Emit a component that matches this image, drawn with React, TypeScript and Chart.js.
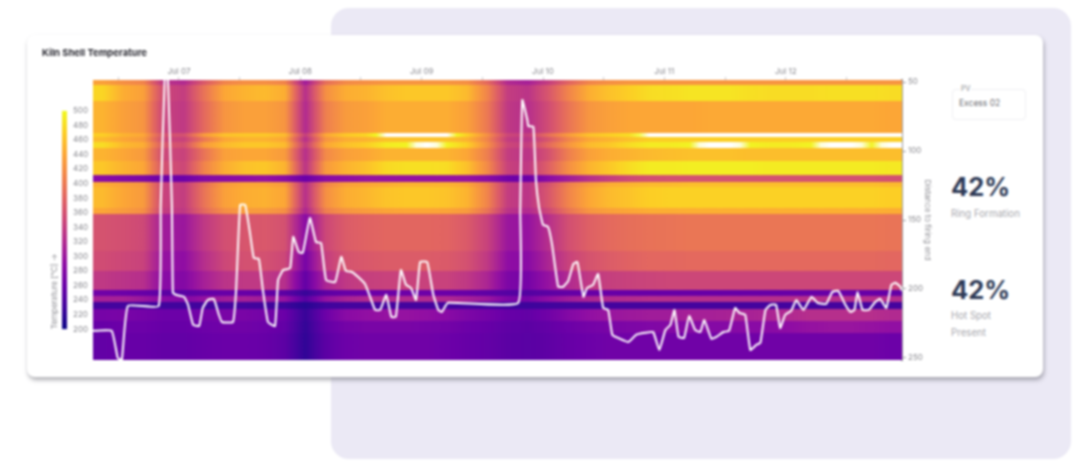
import React, { useEffect, useRef } from "react";
import { Chart, registerables } from "chart.js";

Chart.register(...registerables);

// --- Time columns of the heat map, hours from Jul 07 00:00 (centre of each 4 h column)
const columnHours = [-15, -11, -7, -3, 1, 5, 9, 13, 17, 21, 25, 29, 33, 37, 41, 45, 49, 53, 57, 61, 65, 69, 73, 77, 81, 85, 89, 93, 97, 101, 105, 109, 113, 117, 121, 125, 129, 133, 137, 141];

// --- Distance band edges (m from firing end)
const bandEdges = [48.5, 51.4, 63, 86.2, 89.1, 92.7, 97.1, 106.5, 116.7, 121.7, 125.3, 140.5, 144.9, 171.7, 186.2, 200, 204.3, 208.7, 213.8, 222.5, 231.2, 251.5];

// --- Shell temperature per band and column (deg C)
const band00 = [435, 420, 410, 330, 320, 370, 410, 420, 420, 410, 305, 390, 415, 420, 425, 425, 425, 425, 420, 385, 320, 310, 340, 380, 410, 420, 425, 425, 425, 425, 425, 425, 425, 425, 425, 425, 425, 425, 425, 425];
const band01 = [475, 445, 435, 350, 340, 395, 440, 450, 455, 445, 325, 420, 445, 450, 460, 465, 465, 465, 455, 410, 340, 330, 365, 410, 445, 460, 470, 480, 482, 485, 485, 485, 482, 480, 480, 480, 482, 482, 482, 480];
const band02 = [450, 435, 425, 345, 335, 385, 425, 435, 435, 425, 320, 405, 430, 435, 445, 445, 445, 445, 435, 400, 335, 325, 355, 395, 425, 435, 440, 440, 440, 440, 442, 442, 442, 442, 442, 442, 442, 442, 442, 440];
const band03 = [470, 450, 440, 360, 360, 430, 460, 465, 465, 455, 340, 440, 465, 475, 520, 525, 525, 520, 470, 420, 350, 340, 390, 430, 460, 470, 480, 525, 525, 525, 525, 525, 525, 525, 525, 525, 525, 530, 525, 525];
const band04 = [455, 440, 430, 350, 345, 400, 440, 450, 450, 440, 325, 425, 445, 450, 460, 460, 460, 460, 450, 410, 340, 330, 365, 410, 440, 450, 460, 470, 470, 470, 470, 470, 470, 470, 470, 470, 470, 470, 470, 470];
const band05 = [480, 455, 445, 365, 360, 430, 455, 465, 465, 455, 340, 440, 460, 470, 490, 495, 530, 495, 470, 420, 350, 340, 385, 425, 455, 465, 480, 490, 490, 495, 530, 530, 495, 490, 490, 495, 530, 530, 495, 530];
const band06 = [450, 440, 430, 350, 345, 395, 435, 440, 440, 430, 325, 415, 435, 440, 450, 450, 450, 450, 440, 405, 340, 330, 360, 405, 435, 445, 450, 455, 458, 460, 460, 460, 458, 458, 458, 458, 458, 458, 458, 458];
const band07 = [465, 450, 440, 360, 350, 410, 445, 460, 465, 450, 330, 430, 450, 460, 478, 482, 482, 480, 460, 415, 345, 335, 375, 420, 450, 465, 480, 490, 490, 492, 492, 492, 492, 490, 490, 490, 490, 490, 490, 488];
const band08 = [285, 280, 275, 262, 262, 280, 285, 290, 295, 285, 260, 285, 290, 295, 295, 295, 295, 295, 295, 285, 265, 260, 285, 305, 325, 340, 352, 358, 360, 360, 360, 360, 360, 360, 360, 360, 360, 360, 360, 358];
const band09 = [445, 435, 425, 345, 340, 390, 430, 440, 440, 430, 325, 410, 435, 440, 445, 450, 450, 450, 440, 405, 340, 330, 360, 405, 430, 445, 450, 455, 455, 458, 458, 458, 458, 458, 458, 458, 458, 458, 458, 455];
const band10 = [455, 440, 430, 345, 340, 395, 435, 445, 448, 440, 325, 420, 445, 452, 462, 465, 465, 462, 450, 410, 340, 330, 365, 410, 440, 455, 462, 470, 472, 472, 472, 472, 472, 472, 472, 472, 472, 472, 472, 470];
const band11 = [440, 430, 420, 340, 335, 385, 420, 430, 430, 420, 315, 405, 425, 432, 438, 440, 440, 438, 430, 395, 330, 320, 350, 395, 425, 435, 440, 445, 445, 447, 447, 447, 447, 447, 447, 447, 447, 447, 447, 445];
const band12 = [362, 358, 352, 305, 300, 335, 358, 365, 368, 360, 285, 350, 372, 378, 382, 382, 382, 380, 370, 345, 300, 295, 325, 358, 376, 385, 390, 393, 395, 397, 397, 397, 397, 397, 397, 397, 397, 397, 397, 395];
const band13 = [355, 350, 345, 295, 290, 325, 350, 360, 360, 350, 270, 340, 362, 368, 372, 372, 372, 370, 360, 335, 290, 285, 315, 345, 362, 372, 378, 383, 383, 385, 385, 385, 385, 385, 385, 385, 385, 385, 385, 383];
const band14 = [335, 330, 325, 285, 280, 310, 330, 335, 335, 325, 255, 315, 335, 342, 345, 345, 345, 345, 335, 315, 275, 270, 295, 320, 335, 342, 345, 348, 350, 350, 350, 350, 350, 350, 350, 350, 350, 350, 350, 350];
const band15 = [265, 262, 258, 250, 248, 255, 258, 258, 255, 250, 225, 250, 258, 260, 262, 262, 262, 260, 258, 252, 245, 243, 250, 255, 258, 258, 258, 258, 258, 258, 258, 258, 258, 258, 258, 258, 258, 258, 258, 255];
const band16 = [310, 310, 300, 285, 280, 295, 305, 310, 305, 295, 245, 295, 312, 320, 320, 320, 320, 318, 310, 300, 275, 270, 290, 305, 315, 320, 322, 325, 325, 325, 325, 325, 325, 325, 325, 325, 325, 325, 325, 322];
const band17 = [232, 232, 232, 230, 230, 230, 232, 232, 230, 228, 215, 230, 232, 232, 232, 232, 232, 232, 232, 230, 228, 228, 230, 232, 232, 232, 232, 232, 232, 232, 232, 232, 232, 232, 232, 232, 232, 232, 232, 232];
const band18 = [270, 272, 268, 262, 262, 268, 272, 272, 268, 260, 225, 262, 285, 292, 295, 295, 292, 285, 275, 268, 258, 255, 265, 280, 292, 298, 302, 305, 305, 310, 310, 312, 312, 315, 320, 325, 325, 325, 325, 320];
const band19 = [258, 262, 262, 258, 258, 262, 265, 265, 262, 255, 222, 255, 268, 272, 272, 272, 270, 268, 262, 258, 252, 250, 255, 262, 268, 272, 275, 278, 280, 282, 282, 282, 285, 285, 290, 295, 298, 298, 295, 292];
const band20 = [255, 258, 258, 255, 255, 258, 260, 260, 258, 250, 220, 250, 262, 265, 265, 265, 265, 262, 258, 255, 250, 248, 252, 258, 262, 265, 265, 265, 265, 265, 265, 265, 265, 265, 265, 265, 265, 265, 265, 262];
const temperatureBands = [band00, band01, band02, band03, band04, band05, band06, band07, band08, band09, band10, band11, band12, band13, band14, band15, band16, band17, band18, band19, band20];

// --- Excess O2 process value: hours and reading
const pvHours = [-17, -13.3, -12.1, -11.3, -10.1, -4, -3.6, -2.8, -2.2, -1.4, -1.2, -0.6, 1, 1.8, 2.8, 4, 4.7, 5.7, 6.9, 7.9, 8.5, 10.7, 11.3, 12.1, 13.1, 14.1, 14.8, 15.8, 16.6, 17.6, 19, 19.6, 20.6, 22, 22.6, 23.7, 24.5, 25.9, 27.1, 28.1, 29.1, 30.9, 32.1, 33, 34.2, 35.4, 36.8, 37.8, 38.8, 39.8, 41, 42, 42.9, 43.9, 44.9, 45.9, 46.9, 47.7, 49.1, 50.3, 51.3, 52, 53.2, 67.1, 67.5, 67.9, 68.9, 69.1, 70.1, 70.6, 71.2, 72, 73, 73.8, 75, 76, 77, 78, 78.8, 80, 80.7, 81.9, 82.9, 83.9, 84.9, 85.7, 86.9, 88.9, 90.4, 92.2, 93.8, 95, 96.2, 97.2, 98, 98.8, 99.9, 100.9, 102.1, 103.1, 103.9, 105.3, 106.3, 107.7, 108.8, 110, 110.8, 112, 113, 114.2, 115, 116, 117, 118.1, 118.9, 119.9, 121.1, 122.1, 123.5, 125.1, 126.3, 128, 129.2, 130.4, 131.8, 132.8, 133.6, 134.2, 135.2, 136.4, 137.7, 138.7, 139.9, 140.9, 141.7, 142.7, 143];
const pvValues = [0.73, 0.73, 0.05, 0, 1.35, 1.35, 3.88, 7.1, 7.1, 3.88, 1.68, 1.63, 1.58, 1.38, 0.88, 0.85, 1.3, 1.5, 1.53, 1.13, 0.95, 0.95, 1.75, 3.88, 3.88, 3.13, 2.55, 2.53, 1.75, 0.95, 0.85, 2, 2.25, 2.3, 3.08, 2.7, 2.68, 3.55, 2.95, 2.93, 2, 1.95, 2.58, 2.23, 2.2, 2.08, 1.9, 1.58, 1.25, 1.25, 1.63, 1.08, 1.08, 2.25, 1.88, 1.8, 1.5, 2.45, 2.45, 1.63, 1.25, 1.2, 1.43, 1.43, 3.75, 6.5, 6, 5.85, 5.83, 4.5, 3.83, 3.38, 3.33, 2.88, 1.83, 1.83, 1.98, 2.4, 2.45, 1.58, 1.8, 1.88, 2.15, 1.3, 1.25, 0.63, 0.55, 0.45, 0.63, 0.68, 0.7, 0.25, 0.75, 0.88, 1.25, 0.58, 0.55, 1.1, 0.75, 0.7, 1, 0.53, 0.58, 0.7, 0.73, 1.3, 1.18, 1.13, 0.25, 0.38, 0.43, 1.25, 1.38, 1.38, 0.8, 1.13, 1.23, 1.5, 1.25, 1.58, 1.43, 1.4, 1.7, 1.73, 1.38, 1.2, 1.25, 1.7, 1.25, 1.25, 1.45, 1.53, 1.3, 1.88, 1.93, 1.83, 1.73];

// --- Axis labels
const dayLabels = ["Jul 07", "Jul 08", "Jul 09", "Jul 10", "Jul 11", "Jul 12"];
const distanceTicks = [50, 100, 150, 200, 250];

// --- Plasma colour scale: temperature stop and colour, white above the scale
const scaleTemps = [200, 230, 260, 290, 320, 350, 380, 410, 440, 470, 500, 515];
const scaleColors = ["#0d0887", "#41049d", "#6a00a8", "#8f0da4", "#b12a90", "#cc4778", "#e16462", "#f1844b", "#fca636", "#fcce25", "#f0f921", "#ffffff"];

function hexToRgb(hex: string) {
  return [1, 3, 5].map((i) => parseInt(hex.slice(i, i + 2), 16));
}

function colorFor(t: number) {
  if (t <= scaleTemps[0]) return scaleColors[0];
  for (let i = 1; i < scaleTemps.length; i++) {
    if (t <= scaleTemps[i]) {
      const f = (t - scaleTemps[i - 1]) / (scaleTemps[i] - scaleTemps[i - 1]);
      const a = hexToRgb(scaleColors[i - 1]);
      const b = hexToRgb(scaleColors[i]);
      return `rgb(${a.map((v, k) => Math.round(v + (b[k] - v) * f)).join(",")})`;
    }
  }
  return scaleColors[scaleColors.length - 1];
}

const FONT = "Inter, 'Noto Sans', sans-serif";
const AXIS_GREY = "#8a8a90";

// Soft edge between neighbouring time columns, as the heat map shades between samples
function cellFill(ctx: any) {
  const row = temperatureBands[ctx.datasetIndex];
  const c = ctx.dataIndex;
  const x = ctx.chart.scales.x;
  if (!row || c === undefined) return scaleColors[0];
  const half = (columnHours[1] - columnHours[0]) / 2;
  const left = x ? x.getPixelForValue(columnHours[c] - half) : NaN;
  const right = x ? x.getPixelForValue(columnHours[c] + half) : NaN;
  if (!Number.isFinite(left) || !Number.isFinite(right) || right <= left) return colorFor(row[c]);
  const prev = row[c - 1] ?? row[c];
  const next = row[c + 1] ?? row[c];
  const g = ctx.chart.ctx.createLinearGradient(left, 0, right, 0);
  g.addColorStop(0, colorFor((prev + row[c]) / 2));
  g.addColorStop(0.5, colorFor(row[c]));
  g.addColorStop(1, colorFor((row[c] + next) / 2));
  return g;
}

export default function App() {
  const mainRef = useRef<HTMLCanvasElement>(null);
  const barRef = useRef<HTMLCanvasElement>(null);

  useEffect(() => {
    const heatSets = temperatureBands.map((row, r) => ({
      type: "bar" as const,
      order: 1,
      grouped: false,
      barPercentage: 1,
      categoryPercentage: 1,
      borderWidth: 0,
      inflateAmount: 1,
      xAxisID: "x",
      yAxisID: "y",
      backgroundColor: cellFill,
      data: row.map((t, c) => ({ x: columnHours[c], y: [bandEdges[r], bandEdges[r + 1]] })),
    }));
    const lineSet = {
      type: "line" as const,
      order: 0,
      label: "Excess O2",
      xAxisID: "x",
      yAxisID: "pv",
      borderColor: "#ffffff",
      borderWidth: 2,
      pointRadius: 0,
      tension: 0.12,
      data: pvHours.map((h, i) => ({ x: h, y: pvValues[i] })),
    };
    const main = new Chart(mainRef.current!, {
      type: "bar",
      data: { datasets: [...heatSets, lineSet] as any },
      options: {
        animation: false,
        responsive: false,
        events: [],
        layout: { autoPadding: false, padding: { left: 0, top: 3, right: 0, bottom: 8 } },
        plugins: {
          legend: { display: false },
          tooltip: { enabled: false },
          title: {
            display: true,
            text: "Kiln Shell Temperature",
            align: "start",
            color: "#2b2b33",
            padding: { top: 0, bottom: 3 },
            font: { family: FONT, size: 9.5, weight: "bold" },
          },
        },
        scales: {
          x: {
            type: "linear",
            position: "top",
            offset: false,
            min: -17,
            max: 143,
            afterBuildTicks: (s: any) => {
              s.ticks = s.ticks.filter((t: any) => t.value % 12 === 0);
            },
            afterFit: (s: any) => { s.height = 18.6; },
            ticks: {
              stepSize: 12,
              autoSkip: false,
              maxRotation: 0,
              padding: 1,
              color: AXIS_GREY,
              font: { family: FONT, size: 8 },
              callback: (v: any) => (v % 24 === 0 ? dayLabels[v / 24] ?? "" : ""),
            },
            grid: { offset: false, drawOnChartArea: false, tickLength: 3, color: "#c8c8cc" },
            border: { display: false },
          },
          y: {
            type: "linear",
            position: "right",
            reverse: true,
            min: 48.5,
            max: 251.5,
            afterBuildTicks: (s: any) => {
              s.ticks = distanceTicks.map((value) => ({ value }));
            },
            afterFit: (s: any) => { s.width = 30; },
            ticks: { padding: 2, color: AXIS_GREY, font: { family: FONT, size: 8 } },
            grid: { drawOnChartArea: false, tickLength: 4, color: "#9a9aa0" },
            border: { display: true, color: "#9a9aa0", width: 2 },
            title: {
              display: true,
              text: "Distance to firing end",
              color: AXIS_GREY,
              padding: 0,
              font: { family: FONT, size: 8 },
            },
          },
          pv: {
            type: "linear",
            position: "left",
            min: 0,
            max: 7,
            afterFit: (s: any) => { s.width = 51; },
            ticks: { display: false },
            grid: { display: false, drawTicks: false },
            border: { display: false },
          },
        },
      } as any,
    });
    main.update();

    const bar = new Chart(barRef.current!, {
      type: "bar",
      data: {
        labels: ["Temperature"],
        datasets: [
          {
            data: [[scaleTemps[0], scaleTemps[10]]] as any,
            barPercentage: 1,
            categoryPercentage: 1,
            borderWidth: 0,
            backgroundColor: (ctx: any) => {
              const y = ctx.chart.scales.y;
              const lo = y ? y.getPixelForValue(scaleTemps[0]) : NaN;
              const hi = y ? y.getPixelForValue(scaleTemps[10]) : NaN;
              if (!Number.isFinite(lo) || !Number.isFinite(hi)) return scaleColors[0];
              const g = ctx.chart.ctx.createLinearGradient(0, lo, 0, hi);
              scaleColors.slice(0, 11).forEach((c, i) => g.addColorStop(i / 10, c));
              return g;
            },
          },
        ],
      },
      options: {
        animation: false,
        responsive: false,
        events: [],
        layout: { autoPadding: false, padding: { top: 8, bottom: 9, left: 0, right: 0 } },
        plugins: { legend: { display: false }, tooltip: { enabled: false } },
        scales: {
          x: { display: false },
          y: {
            type: "linear",
            position: "right",
            min: 200,
            max: 500,
            afterFit: (s: any) => { s.width = 25; },
            ticks: { stepSize: 20, autoSkip: false, padding: 6, color: AXIS_GREY, font: { family: FONT, size: 8 } },
            grid: { display: false, drawTicks: false },
            border: { display: false },
          },
          y2: {
            type: "linear",
            position: "left",
            min: 200,
            max: 500,
            afterFit: (s: any) => { s.width = 18; },
            ticks: { display: false },
            grid: { display: false, drawTicks: false },
            border: { display: false },
            title: {
              display: true,
              text: "Temperature [°C] →",
              align: "start",
              color: AXIS_GREY,
              padding: { top: 6, bottom: 0 },
              font: { family: FONT, size: 8 },
            },
          },
        },
      } as any,
    });
    bar.update();

    return () => {
      main.destroy();
      bar.destroy();
    };
  }, []);

  const kpiValue: React.CSSProperties = { position: "absolute", left: 951, fontFamily: FONT, fontWeight: 700, fontSize: 25.5, lineHeight: "30px", color: "#2e3a56" };
  const kpiLabel: React.CSSProperties = { position: "absolute", left: 951, fontFamily: FONT, fontSize: 9.7, lineHeight: "12px", color: "#a8a8ae" };

  return (
    <div style={{ position: "fixed", left: 0, top: 0, width: 1086, height: 466, overflow: "hidden", background: "#fff", filter: "blur(0.85px)" }}>
      <div style={{ position: "absolute", left: 331, top: 8, width: 740, height: 451, borderRadius: 18, background: "#ebe9f5" }} />
      <div style={{ position: "absolute", left: 27, top: 35, width: 1016, height: 342, borderRadius: 8, background: "#fff", boxShadow: "1px 3px 4px rgba(80,80,90,0.45)" }} />
      <canvas ref={mainRef} width={890} height={324} style={{ position: "absolute", left: 42, top: 44, display: "block" }} />
      <canvas ref={barRef} width={48} height={240} style={{ position: "absolute", left: 44, top: 100, display: "block" }} />
      <div style={{ position: "absolute", left: 952, top: 89, width: 72, height: 29, border: "1px solid #f0f0f3", borderRadius: 4 }} />
      <div style={{ position: "absolute", left: 960, top: 84, fontFamily: FONT, fontSize: 7, lineHeight: "9px", padding: "0 1px", background: "#fff", color: "#8a8a90" }}>PV</div>
      <div style={{ position: "absolute", left: 959, top: 98, fontFamily: FONT, fontSize: 8.5, lineHeight: "10px", color: "#707076" }}>Excess 02</div>
      <div style={{ ...kpiValue, top: 172 }}>42%</div>
      <div style={{ ...kpiLabel, top: 208 }}>Ring Formation</div>
      <div style={{ ...kpiValue, top: 275 }}>42%</div>
      <div style={{ ...kpiLabel, top: 310 }}>Hot Spot</div>
      <div style={{ ...kpiLabel, top: 327 }}>Present</div>
    </div>
  );
}
